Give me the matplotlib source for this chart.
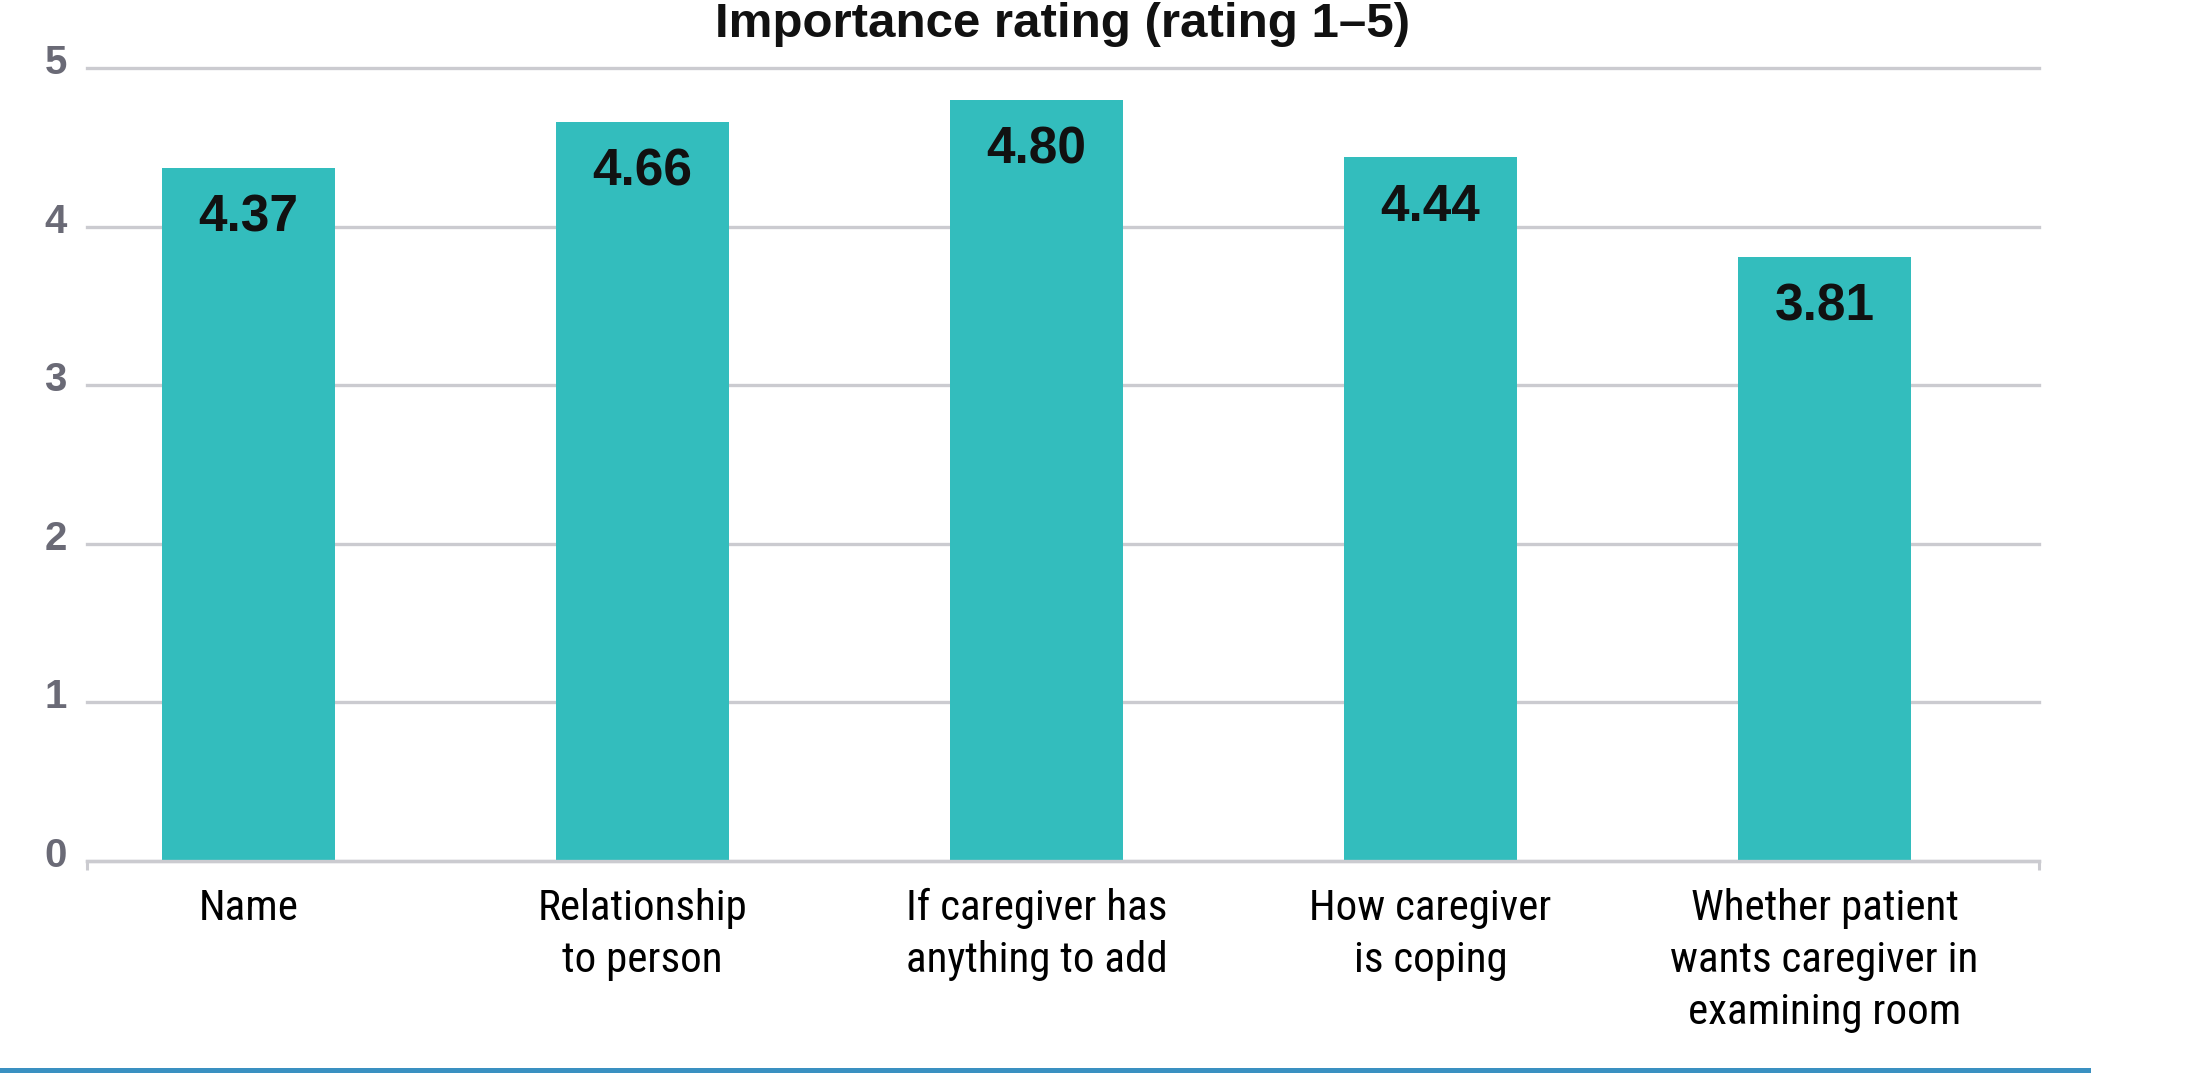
import matplotlib
matplotlib.use("Agg")
import matplotlib.pyplot as plt
import matplotlib.transforms as mtransforms
from matplotlib import font_manager
from matplotlib.lines import Line2D

# data
categories = [
    "Name",
    "Relationship\nto person",
    "If caregiver has\nanything to add",
    "How caregiver\nis coping",
    "Whether patient\nwants caregiver in\nexamining room",
]
ratings = [4.37, 4.66, 4.80, 4.44, 3.81]
y_ticks = [0, 1, 2, 3, 4, 5]

BAR_COLOR = "#33bdbd"
GRID_COLOR = "#cbcbd0"
TICK_COLOR = "#6a6a76"
RULE_COLOR = "#3a90c1"


def condensed_font():
    # the category labels use a narrow sans; pick one if installed
    wanted = ["Liberation Sans Narrow", "Roboto Condensed", "Noto Sans Condensed",
              "Open Sans Condensed", "Noto Sans"]
    found = {}
    for f in font_manager.fontManager.ttflist:
        narrow = ("Narrow" in f.name or "Condensed" in f.name
                  or f.stretch in ("condensed", "semi-condensed"))
        if narrow and f.style == "normal" and f.weight in (400, "normal", "regular"):
            found.setdefault(f.name, f.fname)
    for name in wanted:
        if name in found:
            return font_manager.FontProperties(fname=found[name]), True
    return font_manager.FontProperties(family=["Liberation Sans", "DejaVu Sans"]), False


label_font, is_narrow = condensed_font()
label_font.set_size(31 if is_narrow else 27.5)

fig = plt.figure(figsize=(21.9, 10.75), dpi=100)
ax = fig.add_axes([0.0397, 0.1991, 0.8913, 0.7377])

x = list(range(len(categories)))
ax.bar(x, ratings, width=0.44, color=BAR_COLOR, zorder=2)

# value labels inside the top of each bar
for xi, val in zip(x, ratings):
    ax.annotate(f"{val:.2f}", xy=(xi, val), xytext=(0, -46),
                textcoords="offset points", ha="center", va="baseline",
                fontsize=37, fontweight="bold", color="#111111",
                family=["Liberation Sans", "DejaVu Sans"], zorder=3)

ax.set_xlim(-0.41, 4.544)
ax.set_ylim(0, 5)

# y axis: gridlines + grey bold labels
ax.set_yticks(y_ticks)
ax.set_yticklabels([str(t) for t in y_ticks])
ax.yaxis.grid(True, color=GRID_COLOR, linewidth=2.4, zorder=0)
for gl in ax.get_ygridlines():
    gl.set_clip_on(False)
ax.tick_params(axis="y", length=0, pad=14.5, labelsize=29, labelcolor=TICK_COLOR)
offset = mtransforms.ScaledTranslation(0, 0.09, fig.dpi_scale_trans)
for lab in ax.get_yticklabels():
    lab.set_fontweight("bold")
    lab.set_family(["Liberation Sans", "DejaVu Sans"])
    lab.set_transform(lab.get_transform() + offset)

# x axis: category labels, small ticks only at the ends of the axis line
ax.set_xticks(x)
ax.set_xticklabels(categories, fontproperties=label_font, linespacing=1.35)
ax.set_xticks([-0.41, 4.544], minor=True)
ax.tick_params(axis="x", which="major", length=0, pad=19.5)
ax.tick_params(axis="x", which="minor", length=6.5, width=2.2, color=GRID_COLOR)

for side in ["top", "right", "left"]:
    ax.spines[side].set_visible(False)
ax.spines["bottom"].set_color(GRID_COLOR)
ax.spines["bottom"].set_linewidth(2.4)
ax.set_axisbelow(True)

fig.text(0.4854, 1 - 37 / 1075, "Importance rating (rating 1\u20135)",
         ha="center", va="baseline", fontsize=35.5, fontweight="bold",
         family=["Liberation Sans", "DejaVu Sans"], color="#111111")

# blue rule along the bottom of the figure
fig.add_artist(Line2D([0, 2088 / 2190], [1 - 1070 / 1075] * 2,
                      transform=fig.transFigure, color=RULE_COLOR, linewidth=3.6))

fig.savefig("out.png", dpi=100)
